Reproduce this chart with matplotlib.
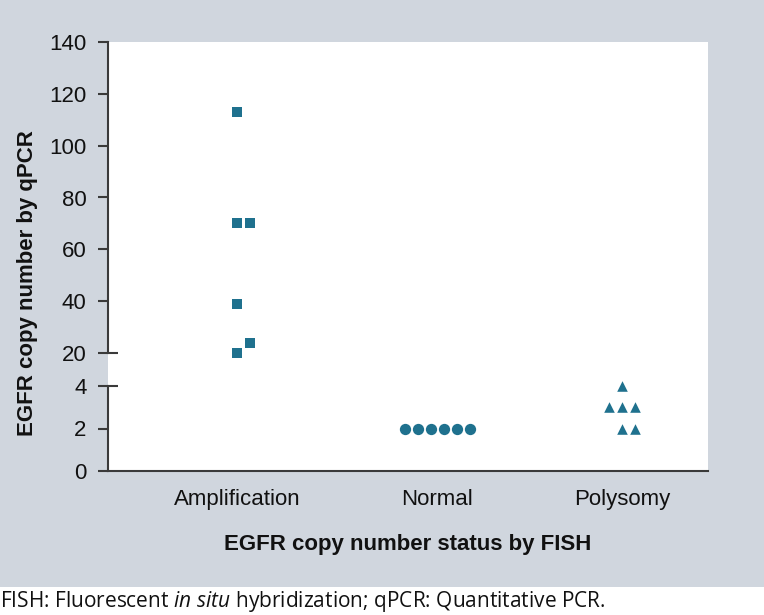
import numpy as np
import matplotlib
matplotlib.use('Agg')
import matplotlib.pyplot as plt
from matplotlib.patches import Rectangle
from matplotlib.transforms import blended_transform_factory

plt.rcParams['font.family'] = ['Liberation Sans', 'DejaVu Sans']
plt.rcParams['mathtext.fontset'] = 'custom'
plt.rcParams['mathtext.rm'] = 'Open Sans'
plt.rcParams['mathtext.it'] = 'Open Sans:italic'

# data
categories = ['Amplification', 'Normal', 'Polysomy']
cat_pos = [1.0, 2.0, 2.925]

amp_values = [113, 70, 70, 39, 24, 20]
amp_offsets = [0, 0, 0.065, 0, 0.065, 0]

normal_values = [2, 2, 2, 2, 2, 2]
normal_offsets = [-0.1625, -0.0975, -0.0325, 0.0325, 0.0975, 0.1625]

poly_values = [4, 3, 3, 3, 2, 2]
poly_offsets = [0, -0.065, 0, 0.065, 0, 0.065]

upper_ticks = [20, 40, 60, 80, 100, 120, 140]
lower_ticks = [0, 2, 4]

teal = '#1f718e'
spine_c = '#3a3a3a'
bg = '#d0d6de'

W, H = 764, 615
fig = plt.figure(figsize=(W / 100, H / 100), dpi=100)
fig.patch.set_facecolor('white')
fig.patches.append(Rectangle((0, (H - 587) / H), 1, 1, transform=fig.transFigure,
                             facecolor=bg, edgecolor='none', zorder=-10))

left, right = 108, 708
top, brk, bottom = 42, 353, 471
ax_lo = fig.add_axes([left / W, (H - bottom) / H, (right - left) / W, (bottom - brk) / H])
ax_up = fig.add_axes([left / W, (H - brk) / H, (right - left) / W, (brk - top) / H])
ax_up.set_zorder(2)

xlim = (0.355, 3.355)
lo_top = (bottom - brk) / ((bottom - 386) / 4.0)

def place(offsets, cat):
    return [cat_pos[cat] + o for o in offsets]

# upper part
ax_up.scatter(place(amp_offsets, 0), amp_values, marker='s', s=54,
              color=teal, linewidths=0, zorder=3, clip_on=False)
ax_up.set_ylim(20, 140)
ax_up.set_xlim(*xlim)
ax_up.set_yticks(upper_ticks)
ax_up.set_xticks([])
for s in ['top', 'right', 'bottom']:
    ax_up.spines[s].set_visible(False)
ax_up.spines['left'].set_bounds(20, 140)

# lower part
ax_lo.scatter(place(normal_offsets, 1), normal_values, marker='o', s=66,
              color=teal, linewidths=0, zorder=3)
ax_lo.scatter(place(poly_offsets, 2), poly_values, marker='^', s=58,
              color=teal, linewidths=0, zorder=3)
ax_lo.set_ylim(0, lo_top)
ax_lo.set_xlim(*xlim)
ax_lo.set_yticks(lower_ticks)
ax_lo.set_xticks(cat_pos)
ax_lo.set_xticklabels(categories)
for s in ['top', 'right']:
    ax_lo.spines[s].set_visible(False)
ax_lo.spines['left'].set_bounds(0, 4)

for ax in (ax_up, ax_lo):
    ax.set_facecolor('white')
    ax.spines['left'].set_color(spine_c)
    ax.spines['left'].set_linewidth(1.5)
    ax.tick_params(axis='y', direction='out', length=7.5, width=1.5, color=spine_c,
                   labelsize=16, pad=8, labelcolor='#111111')
ax_lo.spines['bottom'].set_color(spine_c)
ax_lo.spines['bottom'].set_linewidth(1.5)
ax_lo.tick_params(axis='x', length=0, labelsize=16, pad=13, labelcolor='#111111')

# break marks: the 20 and 4 ticks cross into the plot
for ax, yv in ((ax_up, 20), (ax_lo, 4)):
    tr = blended_transform_factory(ax.transAxes, ax.transData)
    ax.plot([0, 10 / (right - left)], [yv, yv], transform=tr, color=spine_c,
            lw=1.5, clip_on=False, solid_capstyle='butt')

ax_lo.set_xlabel('EGFR copy number status by FISH', fontsize=16, fontweight='bold',
                 labelpad=17, color='#111111')
fig.text(28 / W, 1 - 283 / H, 'EGFR copy number by qPCR', rotation=90, fontsize=16,
         fontweight='bold', ha='center', va='center', color='#111111')

fig.text(0.0, 1 - 601 / H,
         r'FISH: Fluorescent $\mathit{in\ situ}$ hybridization; qPCR: Quantitative PCR.',
         fontsize=15, family='Open Sans', ha='left', va='center', color='#111111')

fig.savefig('out.png', dpi=100)
